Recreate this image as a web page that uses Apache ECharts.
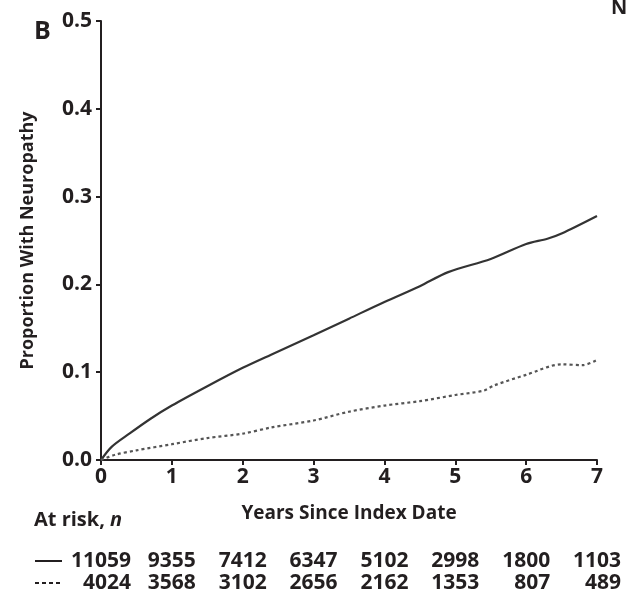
<!DOCTYPE html>
<html>
<head>
<meta charset="utf-8">
<script src="https://cdn.jsdelivr.net/npm/echarts@6/dist/echarts.min.js"></script>
<style>
  html, body { margin: 0; padding: 0; background: #fff; }
  #chart { width: 629px; height: 597px; }
</style>
</head>
<body>
<div id="chart"></div>
<script>
// years since index date, solid curve
var solidYears = [0, 0.15, 0.4, 0.7, 1, 1.5, 2, 2.4, 3, 3.5, 4, 4.5, 4.9, 5.5, 6, 6.3, 6.5, 7];
var solidProp = [0, 0.015, 0.03, 0.047, 0.062, 0.084, 0.105, 0.12, 0.142, 0.161, 0.18, 0.198, 0.214, 0.229, 0.246, 0.252, 0.258, 0.278];

// dotted curve
var dotYears = [0, 0.2, 0.5, 1, 1.5, 2, 2.4, 3, 3.5, 4, 4.5, 5, 5.4, 5.55, 6, 6.5, 6.8, 7];
var dotProp = [0, 0.006, 0.011, 0.018, 0.025, 0.030, 0.037, 0.045, 0.055, 0.062, 0.067, 0.074, 0.079, 0.085, 0.097, 0.109, 0.108, 0.114];

// numbers at risk, per year 0..7
var riskYears = [0, 1, 2, 3, 4, 5, 6, 7];
var riskSolid = ['11059', '9355', '7412', '6347', '5102', '2998', '1800', '1103'];
var riskDotted = ['4024', '3568', '3102', '2656', '2162', '1353', '807', '489'];

var FONT = '"Open Sans", "DejaVu Sans", sans-serif';
var INK = '#231f20';

var chart = echarts.init(document.getElementById('chart'));

function pairs(xs, ys) {
    return xs.map(function (x, i) { return [x, ys[i]]; });
}

var option = {
    backgroundColor: '#fff',
    animation: false,
    grid: { left: 101, right: 32, top: 21, bottom: 137 },
    xAxis: {
        type: 'value',
        min: 0, max: 7, interval: 1,
        name: 'Years Since Index Date',
        nameLocation: 'middle',
        nameGap: 44,
        nameTextStyle: { fontFamily: FONT, fontSize: 19, fontWeight: 'bold', color: INK },
        axisLine: { lineStyle: { color: INK, width: 2 } },
        axisTick: { inside: false, length: 5, lineStyle: { color: INK, width: 2 } },
        axisLabel: { fontFamily: FONT, fontSize: 21, fontWeight: 'bold', color: INK, margin: 7 },
        splitLine: { show: false }
    },
    yAxis: {
        type: 'value',
        min: 0, max: 0.5, interval: 0.1,
        name: 'Proportion With Neuropathy',
        nameLocation: 'middle',
        nameGap: 64,
        nameTextStyle: { fontFamily: FONT, fontSize: 18, fontWeight: 'bold', color: INK },
        axisLine: { show: true, lineStyle: { color: INK, width: 2 } },
        axisTick: { show: true, length: 5, lineStyle: { color: INK, width: 2 } },
        axisLabel: {
            fontFamily: FONT, fontSize: 21, fontWeight: 'bold', color: INK, margin: 9,
            formatter: function (v) { return v.toFixed(1); }
        },
        splitLine: { show: false }
    },
    series: [{
        type: 'line',
        data: pairs(solidYears, solidProp),
        smooth: 0.3,
        symbol: 'none',
        lineStyle: { color: '#333', width: 2.2 }
    }, {
        type: 'line',
        data: pairs(dotYears, dotProp),
        smooth: 0.3,
        symbol: 'none',
        lineStyle: { color: '#555', width: 2.2, type: [3, 3] }
    }]
};
chart.setOption(option);

// panel letters and at-risk table
var graphics = [
    { type: 'text', left: 34, top: 19, style: { text: 'B', font: 'bold 25px ' + FONT, fill: INK } },
    { type: 'text', left: 611, top: -2, style: { text: 'N', font: 'bold 20px ' + FONT, fill: INK } },
    {
        type: 'text', left: 34, top: 510,
        style: {
            text: '{a|At risk, }{b|n}',
            rich: {
                a: { fontFamily: FONT, fontSize: 20, fontWeight: 'bold', fill: INK },
                b: { fontFamily: FONT, fontSize: 20, fontWeight: 'bold', fontStyle: 'italic', fill: INK }
            }
        }
    },
    { type: 'line', shape: { x1: 35, y1: 561, x2: 62, y2: 561 }, style: { stroke: INK, lineWidth: 2 } },
    { type: 'line', shape: { x1: 35, y1: 583, x2: 62, y2: 583 }, style: { stroke: INK, lineWidth: 2, lineDash: [4, 3] } }
];

var riskFont = 'bold 21px ' + FONT;
var ctx = document.createElement('canvas').getContext('2d');
ctx.font = riskFont;
riskYears.forEach(function (yr, i) {
    var px = chart.convertToPixel({ xAxisIndex: 0 }, yr);
    var half = ctx.measureText(riskSolid[i]).width / 2;
    graphics.push({
        type: 'text', x: px, y: 561,
        style: { text: riskSolid[i], font: riskFont, fill: INK, align: 'center', verticalAlign: 'middle' }
    });
    graphics.push({
        type: 'text', x: px + half, y: 583,
        style: { text: riskDotted[i], font: riskFont, fill: INK, align: 'right', verticalAlign: 'middle' }
    });
});

chart.setOption({ graphic: graphics });
</script>
</body>
</html>
